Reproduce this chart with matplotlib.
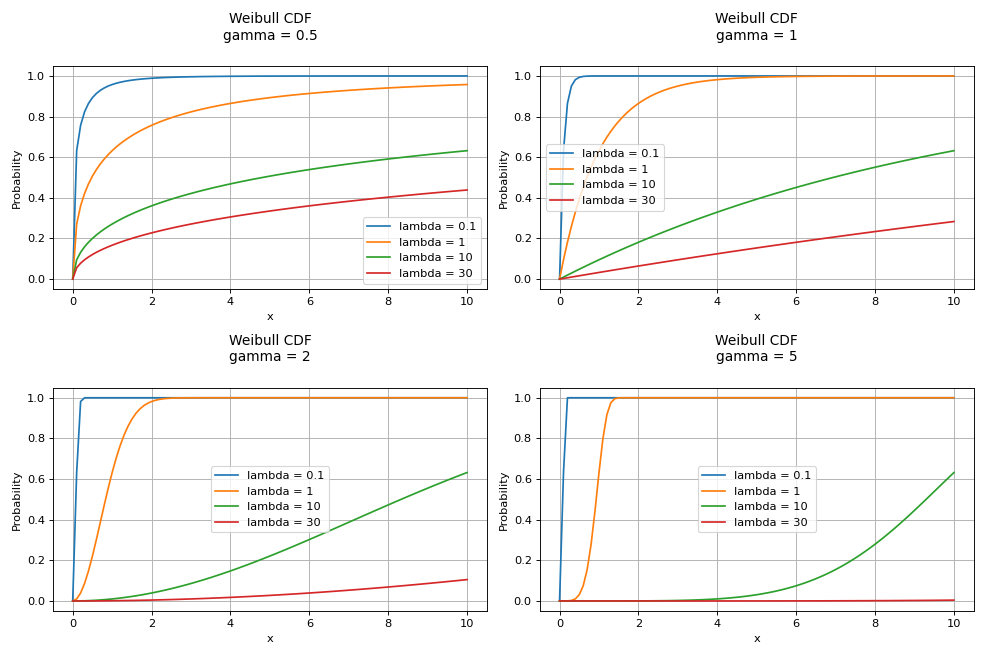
import numpy as np
import matplotlib
matplotlib.use("Agg")
import matplotlib.pyplot as plt

# parametry
gammas = [0.5, 1, 2, 5]
lambdas = [0.1, 1, 10, 30]
x = np.linspace(0, 10, 101)  # krok 0.1
legend_locs = ["lower right", "center left", "center", "center"]


def weibull_cdf(x, lam, gamma):
    return 1 - np.exp(-(x / lam) ** gamma)


dpi = 986 / 12
fig, axes = plt.subplots(2, 2, figsize=(12, 656 / dpi), dpi=dpi)

for ax, gamma, loc in zip(axes.flat, gammas, legend_locs):
    for lam in lambdas:
        ax.plot(x, weibull_cdf(x, lam, gamma), label=f"lambda = {lam}")
    ax.set_title(f"Weibull CDF\ngamma = {gamma}", pad=23)
    ax.set_xlabel("x")
    ax.set_ylabel("Probability")
    ax.grid(True)
    ax.legend(loc=loc)

plt.tight_layout()
plt.savefig("out.png", dpi=dpi)
